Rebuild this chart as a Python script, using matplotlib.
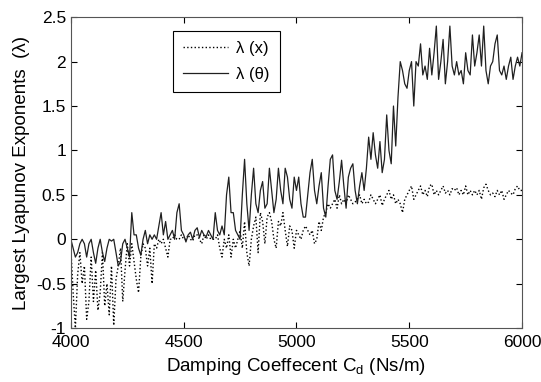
import numpy as np
import matplotlib
matplotlib.use('Agg')
import matplotlib.pyplot as plt

plt.rcParams['font.family'] = ['Liberation Sans', 'DejaVu Sans']

# damping coefficient, one sample every 10 Ns/m
cd = np.arange(4000, 6001, 10)

lam_theta = [
    0.0, -0.1, -0.2, -0.15, -0.05, 0.0, -0.05, -0.2, -0.05, 0.0,
    -0.15, -0.27, -0.1, 0.0, -0.15, -0.25, -0.1, 0.0, -0.02, 0.0,
    -0.15, -0.3, -0.25, -0.05, 0.0, -0.1, -0.2, 0.3, 0.05, 0.05,
    -0.1, -0.18, 0.0, 0.1, -0.05, 0.05, 0.0, 0.05, 0.0, 0.15,
    0.3, 0.05, 0.2, 0.0, 0.05, 0.1, 0.0, 0.3, 0.4, 0.1,
    0.05, -0.03, 0.05, 0.08, 0.0, 0.1, 0.13, 0.02, 0.1, 0.05,
    0.03, 0.1, 0.05, 0.0, 0.3, 0.1, 0.05, 0.15, 0.05, 0.5,
    0.7, 0.3, 0.3, 0.1, 0.05, 0.0, 0.5, 0.9, 0.4, 0.1,
    0.5, 0.8, 0.4, 0.3, 0.55, 0.65, 0.35, 0.4, 0.8, 0.55,
    0.3, 0.45, 0.8, 0.55, 0.4, 0.8, 0.7, 0.45, 0.35, 0.7,
    0.55, 0.7, 0.4, 0.25, 0.25, 0.5, 0.75, 0.9, 0.55, 0.4,
    0.6, 0.75, 0.35, 0.25, 0.6, 0.9, 0.95, 0.55, 0.45, 0.65,
    0.89, 0.6, 0.35, 0.7, 0.8, 0.85, 0.55, 0.4, 0.6, 0.75,
    0.55, 0.8, 1.15, 0.9, 1.2, 0.95, 0.8, 1.1, 0.75, 0.9,
    1.4, 1.0, 0.85, 1.5, 1.05, 1.6, 2.0, 1.9, 1.75, 1.7,
    1.9, 2.0, 1.5, 2.0, 1.95, 2.2, 1.85, 1.95, 1.8, 2.15,
    1.85, 2.1, 2.4, 1.8, 2.0, 2.25, 1.75, 2.0, 2.4, 1.95,
    1.85, 2.0, 1.85, 1.9, 1.75, 2.1, 1.9, 1.85, 2.3, 1.95,
    2.1, 2.3, 1.95, 2.4, 1.9, 1.75, 1.95, 2.0, 2.2, 2.3,
    1.9, 1.85, 1.95, 1.8, 1.95, 2.05, 1.8, 1.95, 2.05, 1.95,
    2.1,
]

lam_x = [
    -0.1, -0.6, -1.0, -0.4, -0.15, -0.5, -0.3, -0.9, -0.7, -0.2,
    -0.7, -0.35, -0.8, -0.6, -0.15, -0.75, -0.5, -0.85, -0.3, -0.97,
    -0.45, -0.3, -0.1, -0.7, -0.35, -0.05, -0.3, -0.05, -0.25, -0.45,
    -0.6, -0.2, -0.05, -0.1, -0.3, -0.1, -0.5, -0.05, -0.1, 0.0,
    -0.05, 0.0, -0.1, -0.2, 0.0, 0.0, 0.05, 0.0, 0.0, 0.05,
    0.0, 0.0, 0.05, 0.0, -0.02, 0.05, 0.05, 0.0, -0.05, 0.05,
    0.0, 0.05, 0.0, 0.0, 0.0, 0.05, -0.1, -0.2, 0.0, -0.1,
    0.05, -0.2, 0.0, -0.1, 0.0, 0.1, -0.1, 0.2, -0.15, -0.3,
    0.0, 0.15, 0.25, -0.15, 0.3, 0.2, -0.05, 0.25, 0.3, 0.2,
    0.0, -0.1, 0.2, 0.15, 0.3, 0.1, -0.08, 0.15, 0.1, -0.1,
    0.1, 0.05, 0.0, 0.1, 0.15, 0.1, 0.05, 0.1, -0.05, 0.0,
    0.2, 0.1, 0.25, 0.3, 0.4, 0.35, 0.4, 0.45, 0.35, 0.5,
    0.4, 0.45, 0.4, 0.5, 0.45, 0.4, 0.42, 0.45, 0.5, 0.4,
    0.45, 0.4, 0.42, 0.5, 0.45, 0.4, 0.45, 0.5, 0.38, 0.45,
    0.5, 0.55, 0.45, 0.5, 0.4, 0.45, 0.4, 0.3, 0.45, 0.5,
    0.55, 0.6, 0.45, 0.5, 0.55, 0.6, 0.5, 0.55, 0.48, 0.6,
    0.62, 0.5, 0.55, 0.5, 0.55, 0.6, 0.52, 0.55, 0.5, 0.57,
    0.55, 0.58, 0.5, 0.55, 0.5, 0.6, 0.5, 0.55, 0.5, 0.55,
    0.5, 0.55, 0.45, 0.58, 0.62, 0.55, 0.5, 0.52, 0.48, 0.55,
    0.5, 0.55, 0.45, 0.5, 0.55, 0.52, 0.5, 0.57, 0.6, 0.55,
    0.55,
]

yticks = [-1, -0.5, 0, 0.5, 1, 1.5, 2, 2.5]
ytick_labels = ['-1', '-0.5', '0', '0.5', '1', '1.5', '2', '2.5']
xticks = [4000, 4500, 5000, 5500, 6000]

fig = plt.figure(figsize=(5.41, 3.82), dpi=100)
ax = fig.add_axes([0.131, 0.141, 0.834, 0.814])

ax.plot(cd, lam_x, ':', color='black', lw=1.0, label='λ (x)')
ax.plot(cd, lam_theta, '-', color='#202020', lw=0.9, label='λ (θ)')

ax.set_xlim(4000, 6000)
ax.set_ylim(-1, 2.5)
ax.set_xticks(xticks)
ax.set_yticks(yticks)
ax.set_yticklabels(ytick_labels)
ax.tick_params(direction='in', top=True, right=True, labelsize=12.5, length=4)
ax.tick_params(axis='x', pad=5)
for s in ax.spines.values():
    s.set_color('#555555')

ax.set_xlabel('Damping Coeffecent C$_\\mathregular{d}$ (Ns/m)', fontsize=13.5)
ax.set_ylabel('Largest Lyapunov Exponents  (λ)', fontsize=13.5)

leg = ax.legend(loc='upper left', bbox_to_anchor=(0.226, 0.955), fontsize=12,
                fancybox=False, framealpha=1, edgecolor='black',
                borderaxespad=0, handlelength=2.7, handletextpad=0.5,
                borderpad=0.6, labelspacing=0.65)
leg.get_frame().set_linewidth(0.8)

fig.savefig('out.png', dpi=100)
